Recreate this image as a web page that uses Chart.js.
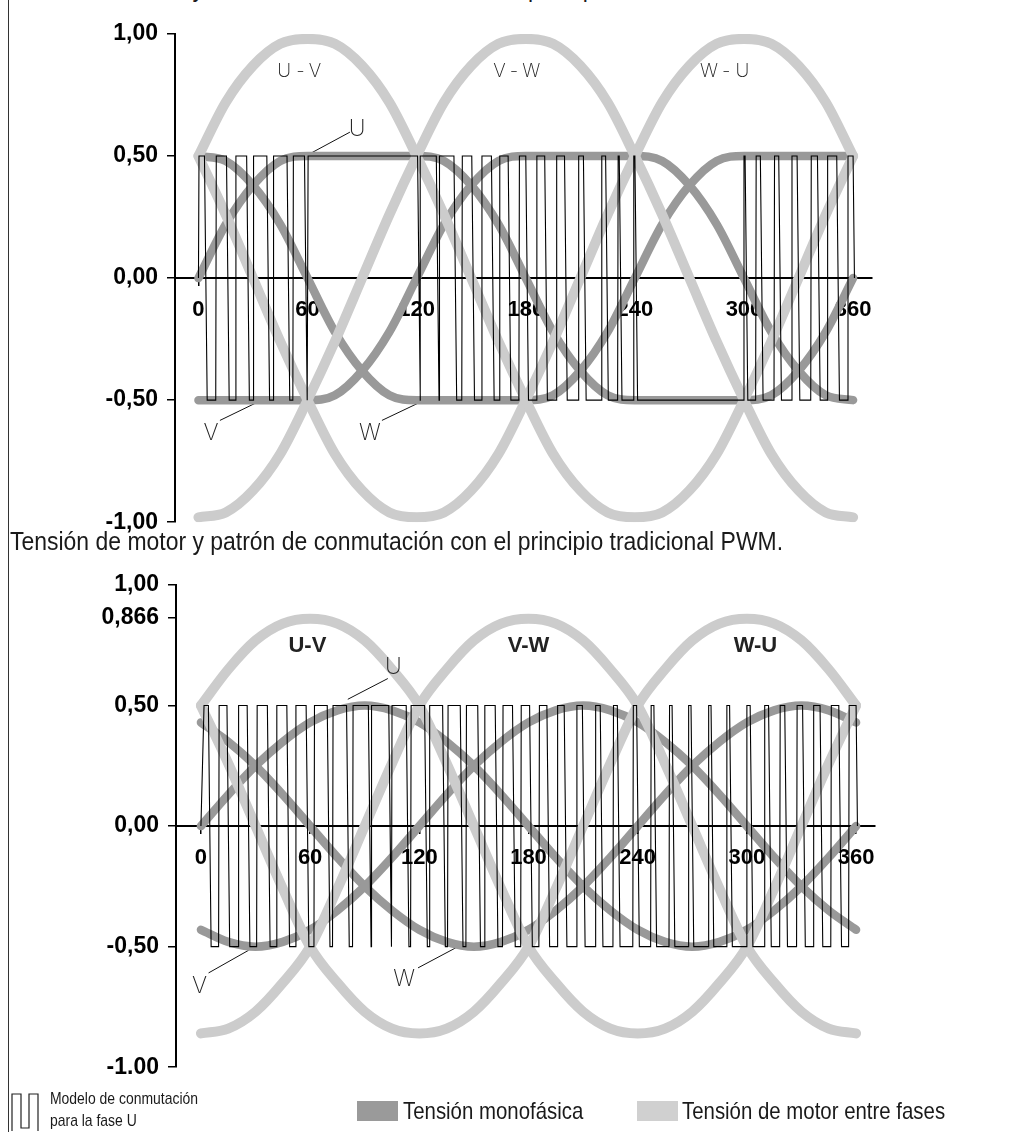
<!DOCTYPE html>
<html lang="es">
<head>
<meta charset="UTF-8">
<title>Tensión de motor y patrón de conmutación</title>
<script src="https://cdn.jsdelivr.net/npm/chart.js"></script>
<style>
  body {
    margin: 0;
    width: 1026px;
    height: 1135px;
    position: relative;
    overflow: hidden;
    background: #fff;
    color: #1a1a1a;
    font-family: "Liberation Sans Narrow", "Liberation Sans", Arial, sans-serif;
  }
  canvas { position: absolute; left: 0; }
  #avmChart { top: 0; }
  #spwmChart { top: 560px; }
  .frame { position: absolute; left: 8px; top: 0; width: 1px; height: 1132px; background: #333; }
  /* the captions and legend use a condensed face; squeeze the fallback */
  .caption { position: absolute; left: 10px; font-size: 25px; line-height: 25px; white-space: nowrap;
             transform: scaleX(0.918); transform-origin: 0 0; }
  #capTop { top: -24px; }
  #capMid { top: 529px; }
  .leg { position: absolute; white-space: nowrap; transform-origin: 0 0; }
  .leg-icon { left: 11px; top: 1091px; }
  .leg-pwm { left: 50px; top: 1088px; font-size: 17px; line-height: 22px; transform: scaleX(0.82); }
  .swatch { position: absolute; top: 1101px; width: 41px; height: 20px; }
  .leg-txt { top: 1098px; font-size: 24px; line-height: 26px; transform: scaleX(0.85); }
</style>
</head>
<body>
<div class="frame"></div>
<div class="caption" id="capTop">Tensión de motor y modelo de conmutación con el principio 60° AVM.</div>
<canvas id="avmChart" width="1026" height="545"></canvas>
<div class="caption" id="capMid">Tensión de motor y patrón de conmutación con el principio tradicional PWM.</div>
<canvas id="spwmChart" width="1026" height="530"></canvas>

<svg class="leg leg-icon" width="30" height="42">
  <polyline points="1,40 1,3 10,3 10,37 18,37 18,3 27,3 27,40" fill="none" stroke="#222" stroke-width="1.2"/>
</svg>
<div class="leg leg-pwm">Modelo de conmutación<br>para la fase U</div>
<div class="swatch" style="left:357px; background:#9a9a9a"></div>
<div class="leg leg-txt" style="left:403px">Tensión monofásica</div>
<div class="swatch" style="left:637px; background:#d0d0d0"></div>
<div class="leg leg-txt" style="left:682px">Tensión de motor entre fases</div>

<script>
// angle grid (degrees) shared by all curves
const deg = [0, 15, 30, 45, 60, 75, 90, 105, 120, 135, 150, 165, 180, 195, 210, 225, 240, 255, 270, 285, 300, 315, 330, 345, 360];
const xTicks = [0, 60, 120, 180, 240, 300, 360];

// --- 60° AVM (upper chart) ---
const avmUV = [0.50, 0.72, 0.87, 0.96, 0.98, 0.96, 0.87, 0.72, 0.50, 0.26, 0.00, -0.26, -0.50, -0.72, -0.87, -0.96, -0.98, -0.96, -0.87, -0.72, -0.50, -0.26, 0.00, 0.26, 0.50];
const avmVW = [-0.98, -0.96, -0.87, -0.72, -0.50, -0.26, 0.00, 0.26, 0.50, 0.72, 0.87, 0.96, 0.98, 0.96, 0.87, 0.72, 0.50, 0.26, 0.00, -0.26, -0.50, -0.72, -0.87, -0.96, -0.98];
const avmWU = [0.50, 0.26, 0.00, -0.26, -0.50, -0.72, -0.87, -0.96, -0.98, -0.96, -0.87, -0.72, -0.50, -0.26, 0.00, 0.26, 0.50, 0.72, 0.87, 0.96, 0.98, 0.96, 0.87, 0.72, 0.50];
const avmU = [0.00, 0.22, 0.38, 0.48, 0.50, 0.50, 0.50, 0.50, 0.50, 0.48, 0.38, 0.22, 0.00, -0.22, -0.38, -0.48, -0.50, -0.50, -0.50, -0.50, -0.50, -0.48, -0.38, -0.22, 0.00];
const avmV = [-0.50, -0.50, -0.50, -0.50, -0.50, -0.48, -0.38, -0.22, 0.00, 0.22, 0.38, 0.48, 0.50, 0.50, 0.50, 0.50, 0.50, 0.48, 0.38, 0.22, 0.00, -0.22, -0.38, -0.48, -0.50];
const avmW = [0.50, 0.48, 0.38, 0.22, 0.00, -0.22, -0.38, -0.48, -0.50, -0.50, -0.50, -0.50, -0.50, -0.48, -0.38, -0.22, 0.00, 0.22, 0.38, 0.48, 0.50, 0.50, 0.50, 0.50, 0.50];
// high intervals [start, end] of the phase U switching pattern
const avmPulses = [[0.3, 3.3], [9.8, 15.4], [20.6, 26.5], [30.3, 37.6], [41.3, 48.7], [52.2, 58.3], [60.3, 120.5],
  [121.9, 130.8], [132.7, 140.5], [145.1, 150.3], [155.9, 161.1], [165.7, 170.3], [176.5, 180.0], [186.1, 190.4],
  [197.0, 201.3], [209.1, 211.7], [221.8, 223.9], [230.8, 231.4], [239.4, 240.0], [300.0, 300.6], [306.7, 309.0],
  [316.8, 319.1], [326.4, 329.2], [337.0, 340.4], [346.0, 351.0], [357.2, 360.0]];
const avmYTicks = [1, 0.5, 0, -0.5, -1];
const avmYLabels = ['1,00', '0,50', '0,00', '-0,50', '-1,00'];

// --- traditional sine PWM (lower chart) ---
const spwmUV = [0.50, 0.65, 0.77, 0.84, 0.86, 0.84, 0.77, 0.65, 0.50, 0.26, 0.00, -0.26, -0.50, -0.65, -0.77, -0.84, -0.86, -0.84, -0.77, -0.65, -0.50, -0.26, 0.00, 0.26, 0.50];
const spwmVW = [-0.86, -0.84, -0.77, -0.65, -0.50, -0.26, 0.00, 0.26, 0.50, 0.65, 0.77, 0.84, 0.86, 0.84, 0.77, 0.65, 0.50, 0.26, 0.00, -0.26, -0.50, -0.65, -0.77, -0.84, -0.86];
const spwmWU = [0.50, 0.26, 0.00, -0.26, -0.50, -0.65, -0.77, -0.84, -0.86, -0.84, -0.77, -0.65, -0.50, -0.26, 0.00, 0.26, 0.50, 0.65, 0.77, 0.84, 0.86, 0.84, 0.77, 0.65, 0.50];
const spwmU = [0.00, 0.13, 0.25, 0.35, 0.43, 0.48, 0.50, 0.48, 0.43, 0.35, 0.25, 0.13, 0.00, -0.13, -0.25, -0.35, -0.43, -0.48, -0.50, -0.48, -0.43, -0.35, -0.25, -0.13, 0.00];
const spwmV = [-0.43, -0.48, -0.50, -0.48, -0.43, -0.35, -0.25, -0.13, 0.00, 0.13, 0.25, 0.35, 0.43, 0.48, 0.50, 0.48, 0.43, 0.35, 0.25, 0.13, 0.00, -0.13, -0.25, -0.35, -0.43];
const spwmW = [0.43, 0.35, 0.25, 0.13, 0.00, -0.13, -0.25, -0.35, -0.43, -0.48, -0.50, -0.48, -0.43, -0.35, -0.25, -0.13, 0.00, 0.13, 0.25, 0.35, 0.43, 0.48, 0.50, 0.48, 0.43];
const spwmPulses = [[1.7, 4.1], [10.0, 14.3], [20.7, 25.4], [30.9, 36.5], [41.7, 47.2], [52.2, 57.8], [62.4, 69.4],
  [72.6, 80.0], [83.6, 92.0], [93.9, 103.2], [105.0, 112.8], [115.5, 122.9], [125.7, 132.8], [135.8, 142.5],
  [145.9, 152.1], [156.0, 161.7], [166.0, 171.2], [176.0, 180.6], [186.0, 190.1], [196.0, 199.6], [206.6, 209.6],
  [216.9, 219.4], [226.7, 228.8], [237.6, 239.4], [247.4, 248.9], [257.5, 258.9], [268.0, 269.3], [279.0, 280.3],
  [289.0, 290.5], [300.0, 301.8], [309.8, 311.9], [318.3, 320.8], [327.6, 330.6], [336.7, 340.2], [346.4, 350.5],
  [356.2, 360.0]];
const spwmYTicks = [1, 0.866, 0.5, 0, -0.5, -1];
const spwmYLabels = ['1,00', '0,866', '0,50', '0,00', '-0,50', '-1.00'];

const pwmLevels = [-0.5, 0.5];

const LIGHT = '#cccccc';
const DARK = '#999999';
const RISE = 0.3;   // edge slant of the switching pattern, degrees
const FALL = 1.5;

function curve(values) {
  return deg.map((d, i) => ({ x: d, y: values[i] }));
}

// square wave through the high intervals, starting and ending on the zero line
function pwmPoints(pulses) {
  const [lo, hi] = pwmLevels;
  const pts = [{ x: 0, y: 0 }];
  pulses.forEach(([a, b], i) => {
    pts.push({ x: a, y: hi }, { x: b, y: hi });
    const next = pulses[i + 1];
    if (next) {
      const s = b + FALL;
      pts.push({ x: s, y: lo }, { x: Math.max(s, next[0] - RISE), y: lo });
    } else {
      pts.push({ x: b + FALL / 2, y: 0 });
    }
  });
  return pts;
}

const thin = '200 23px Inter, "Noto Sans", sans-serif';
const thinSmall = '200 19px Inter, "Noto Sans", sans-serif';
const boldLabel = 'bold 22px "Liberation Sans", Arial, sans-serif';
const notes = {
  avmChart: {
    leaders: [[83.3, 0.598, 61.9, 0.512], [11.8, -0.583, 33.4, -0.505], [100.9, -0.583, 122.9, -0.505]],
    labels: [
      { text: 'U-V', x: 56.8, y: 0.847, font: thinSmall, spacing: '5px' },
      { text: 'V-W', x: 176.4, y: 0.847, font: thinSmall, spacing: '5px' },
      { text: 'W-U', x: 290.7, y: 0.847, font: thinSmall, spacing: '5px' },
      { text: 'U', x: 87.2, y: 0.61, font: thin },
      { text: 'V', x: 6.9, y: -0.634, font: thin },
      { text: 'W', x: 94.3, y: -0.634, font: thin }
    ]
  },
  spwmChart: {
    leaders: [[102.7, 0.612, 80.7, 0.526], [4.2, -0.609, 26.2, -0.515], [119.3, -0.588, 140.0, -0.505]],
    labels: [
      { text: 'U-V', x: 58.5, y: 0.749, font: boldLabel },
      { text: 'V-W', x: 180.0, y: 0.749, font: boldLabel },
      { text: 'W-U', x: 304.7, y: 0.749, font: boldLabel },
      { text: 'U', x: 105.8, y: 0.66, font: thin },
      { text: 'V', x: -0.7, y: -0.663, font: thin },
      { text: 'W', x: 111.7, y: -0.636, font: thin }
    ]
  }
};

const notesPlugin = {
  id: 'notes',
  beforeDatasetsDraw(chart) {
    const n = notes[chart.canvas.id];
    const { ctx, scales: { x, y } } = chart;
    ctx.save();
    ctx.strokeStyle = '#111';
    ctx.lineWidth = 1;
    n.leaders.forEach(l => {
      ctx.beginPath();
      ctx.moveTo(x.getPixelForValue(l[0]), y.getPixelForValue(l[1]));
      ctx.lineTo(x.getPixelForValue(l[2]), y.getPixelForValue(l[3]));
      ctx.stroke();
    });
    ctx.restore();
  },
  afterDatasetsDraw(chart) {
    const n = notes[chart.canvas.id];
    const { ctx, scales: { x, y } } = chart;
    ctx.save();
    ctx.textAlign = 'center';
    ctx.textBaseline = 'middle';
    n.labels.forEach(l => {
      ctx.font = l.font;
      ctx.fillStyle = '#222';
      ctx.letterSpacing = l.spacing || '0px';
      ctx.fillText(l.text, x.getPixelForValue(l.x), y.getPixelForValue(l.y));
    });
    ctx.restore();
  }
};

const xTickFont = { family: '"Liberation Sans", Arial, sans-serif', size: 22, weight: 'bold' };
const yTickFont = { family: '"Liberation Sans", Arial, sans-serif', size: 23, weight: 'bold' };

function makeChart(id, c) {
  const line = (data, color, width, order, extra) => Object.assign({
    data, borderColor: color, borderWidth: width, pointRadius: 0, order,
    borderCapStyle: 'round', borderJoinStyle: 'round', fill: false
  }, extra);
  return new Chart(document.getElementById(id), {
    type: 'line',
    data: {
      datasets: [
        line(pwmPoints(c.pulses), '#000', 1.1, 0, { tension: 0, borderCapStyle: 'butt', borderJoinStyle: 'miter' }),
        line(curve(c.uv), LIGHT, 10, 1, { cubicInterpolationMode: 'monotone' }),
        line(curve(c.vw), LIGHT, 10, 1, { cubicInterpolationMode: 'monotone' }),
        line(curve(c.wu), LIGHT, 10, 1, { cubicInterpolationMode: 'monotone' }),
        line(curve(c.u), DARK, 8.5, 2, { cubicInterpolationMode: 'monotone' }),
        line(curve(c.v), DARK, 8.5, 2, { cubicInterpolationMode: 'monotone' }),
        line(curve(c.w), DARK, 8.5, 2, { cubicInterpolationMode: 'monotone' })
      ]
    },
    options: {
      responsive: false,
      animation: false,
      devicePixelRatio: 1,
      layout: { padding: c.padding },
      plugins: { legend: { display: false }, tooltip: { enabled: false } },
      scales: {
        x: {
          type: 'linear', min: c.xMin, max: c.xMax,
          position: { y: 0 },
          afterBuildTicks: s => { s.ticks = xTicks.map(v => ({ value: v })); },
          grid: { drawOnChartArea: false, tickLength: 7, color: '#000', lineWidth: 1.5 },
          border: { color: '#000', width: 2 },
          ticks: { font: xTickFont, color: '#000', padding: 12, maxRotation: 0, callback: v => String(v) }
        },
        y: {
          type: 'linear', min: -1, max: 1,
          afterFit: s => { s.width = c.axisX; },
          afterBuildTicks: s => { s.ticks = c.yTicks.map(v => ({ value: v })); },
          grid: { drawOnChartArea: false, tickLength: 8, color: '#000', lineWidth: 1.5 },
          border: { color: '#000', width: 2 },
          ticks: { font: yTickFont, color: '#000', padding: 9, callback: v => c.yLabels[c.yTicks.indexOf(v)] }
        }
      }
    },
    plugins: [notesPlugin]
  });
}

makeChart('avmChart', {
  uv: avmUV, vw: avmVW, wu: avmWU, u: avmU, v: avmV, w: avmW, pulses: avmPulses,
  yTicks: avmYTicks, yLabels: avmYLabels,
  xMin: -12.9, xMax: 370.4, axisX: 175,
  padding: { left: 0, right: 154, top: 34, bottom: 19 }
});

makeChart('spwmChart', {
  uv: spwmUV, vw: spwmVW, wu: spwmWU, u: spwmU, v: spwmV, w: spwmW, pulses: spwmPulses,
  yTicks: spwmYTicks, yLabels: spwmYLabels,
  xMin: -13.7, xMax: 370.4, axisX: 176,
  padding: { left: 0, right: 151, top: 25, bottom: 21 }
});
</script>
</body>
</html>
